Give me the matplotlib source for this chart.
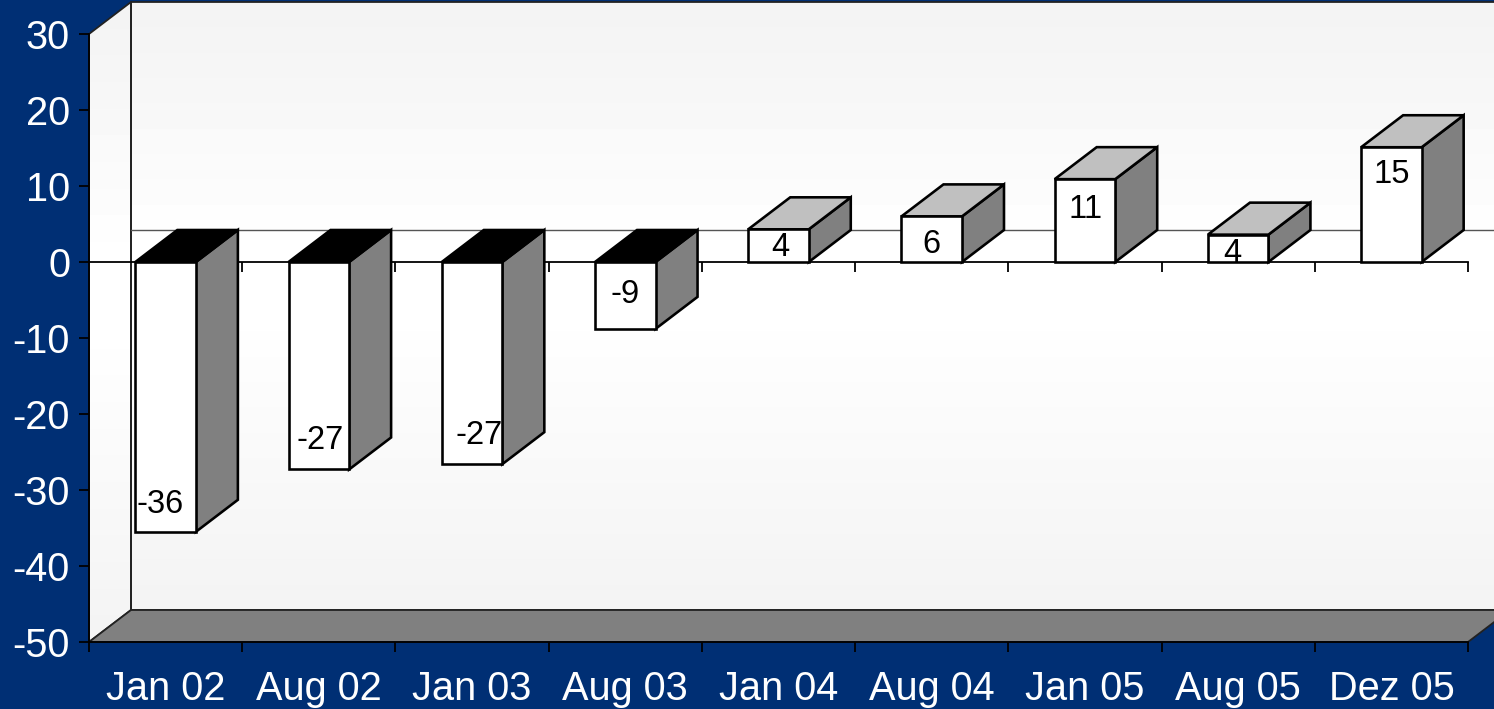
"""
Pseudo-3D column chart, Excel style, on a dark blue slide background.
"""

import numpy as np
import matplotlib.pyplot as plt
from matplotlib.colors import LinearSegmentedColormap
from matplotlib.patches import Polygon

plt.rcParams['font.family'] = ['Liberation Sans', 'DejaVu Sans']

# Data
categories = ['Jan 02', 'Aug 02', 'Jan 03', 'Aug 03', 'Jan 04',
              'Aug 04', 'Jan 05', 'Aug 05', 'Dez 05']
values = [-35.5, -27.3, -26.6, -8.8, 4.3, 6.0, 10.9, 3.6, 15.1]
value_labels = ['-36', '-27', '-27', '-9', '4', '6', '11', '4', '15']
y_ticks = [-50, -40, -30, -20, -10, 0, 10, 20, 30]

# Style
BG = '#002F74'
SIDE = '#808080'
TOP_POS = '#C0C0C0'
TOP_NEG = '#000000'
BAR_WIDTH = 0.395
DEPTH_X = 42 / 153.2   # in category units
DEPTH_Y = 32 / 7.6     # in value units
PX = 72 / 100          # one pixel, in points

# text nudge per bar (pixels from the bar end)
label_shift_px = [(-6, 27), (1, 29), (7, 29), (0, 34), (2, -18), (0, -28),
                  (1, -30), (-6, -19), (0, -27)]

fig = plt.figure(figsize=(14.94, 7.09), dpi=100, facecolor=BG)
ax = fig.add_axes([89 / 1494, 67 / 709, 1379 / 1494, 608 / 709])

# walls, with the faint grey-white-grey gradient
wall_cmap = LinearSegmentedColormap.from_list(
    'wall', [(0.0, '#F4F4F4'), (0.38, '#FFFFFF'), (0.55, '#FFFFFF'), (1.0, '#F4F4F4')])
gradient = np.linspace(0, 1, 24).reshape(-1, 1)

walls = [
    ([(DEPTH_X, -50 + DEPTH_Y), (DEPTH_X, 30 + DEPTH_Y), (9 + DEPTH_X, 30 + DEPTH_Y),
      (9 + DEPTH_X, -50 + DEPTH_Y)], (DEPTH_X, 9 + DEPTH_X, -50 + DEPTH_Y, 30 + DEPTH_Y)),
    ([(0, -50), (0, 30), (DEPTH_X, 30 + DEPTH_Y), (DEPTH_X, -50 + DEPTH_Y)],
     (0, DEPTH_X, -50, 30 + DEPTH_Y)),
]
for corners, extent in walls:
    clip = Polygon(corners, closed=True, transform=ax.transData)
    im = ax.imshow(gradient, cmap=wall_cmap, vmin=0, vmax=1, extent=extent,
                   aspect='auto', origin='upper', zorder=1, interpolation='nearest')
    im.set_clip_box(fig.bbox)
    im.set_clip_path(clip)
    ax.add_patch(Polygon(corners, closed=True, fill=False, edgecolor='#222222',
                         linewidth=1.8 * PX, zorder=1.2, clip_on=False))

# floor
ax.add_patch(Polygon([(0, -50), (DEPTH_X, -50 + DEPTH_Y), (9 + DEPTH_X, -50 + DEPTH_Y), (9, -50)],
                     closed=True, facecolor=SIDE, edgecolor='#222222',
                     linewidth=1.8 * PX, zorder=1.5, clip_on=False))

# zero lines: back wall and front plane
ax.plot([DEPTH_X, 9 + DEPTH_X], [DEPTH_Y, DEPTH_Y], color='#555555', linewidth=1.4 * PX,
        zorder=2, clip_on=False)
ax.plot([0, 9], [0, 0], color='black', linewidth=1.8 * PX, zorder=3, clip_on=False)
ax.vlines(np.arange(1, 10), -10 / 7.6, 0, color='black', linewidth=1.8 * PX, zorder=3,
          clip_on=False)

# bars
for i, v in enumerate(values):
    x0 = i + 0.5 - BAR_WIDTH / 2
    x1 = i + 0.5 + BAR_WIDTH / 2
    top = max(v, 0)
    top_color = TOP_POS if v > 0 else TOP_NEG
    style = dict(closed=True, edgecolor='black', linewidth=2.6 * PX, joinstyle='miter',
                 zorder=4 + i * 0.01, clip_on=False)
    ax.add_patch(Polygon([(x1, 0), (x1, v), (x1 + DEPTH_X, v + DEPTH_Y), (x1 + DEPTH_X, DEPTH_Y)],
                         facecolor=SIDE, **style))
    ax.add_patch(Polygon([(x0, top), (x1, top), (x1 + DEPTH_X, top + DEPTH_Y),
                          (x0 + DEPTH_X, top + DEPTH_Y)], facecolor=top_color, **style))
    ax.add_patch(Polygon([(x0, 0), (x1, 0), (x1, v), (x0, v)], facecolor='white', **style))

    dx, dy = label_shift_px[i]
    ax.annotate(value_labels[i], (i + 0.5, v), xytext=(dx * PX, dy * PX),
                textcoords='offset points', ha='center', va='center', fontsize=23.5,
                color='black', zorder=5)

# axes
ax.set_xlim(0, 9)
ax.set_ylim(-50, 30)
ax.patch.set_visible(False)
for name in ('top', 'right'):
    ax.spines[name].set_visible(False)
for name in ('left', 'bottom'):
    ax.spines[name].set_linewidth(1.8 * PX)
    ax.spines[name].set_color('black')
    ax.spines[name].set_zorder(3)

ax.set_yticks(y_ticks)
ax.set_yticklabels([str(t) for t in y_ticks])
ax.set_xticks(np.arange(0, 10))
ax.set_xticklabels([])
ax.set_xticks(np.arange(len(categories)) + 0.5, minor=True)
ax.set_xticklabels(categories, minor=True)
ax.tick_params(axis='y', length=10 * PX, width=1.8 * PX, color='black', pad=9 * PX,
               labelsize=28.6, labelcolor='white')
ax.tick_params(axis='x', which='major', length=10 * PX, width=1.8 * PX, color='black')
ax.tick_params(axis='x', which='minor', length=0, pad=28 * PX, labelsize=28.6, labelcolor='white')

plt.savefig('out.png', dpi=100, facecolor=BG)
